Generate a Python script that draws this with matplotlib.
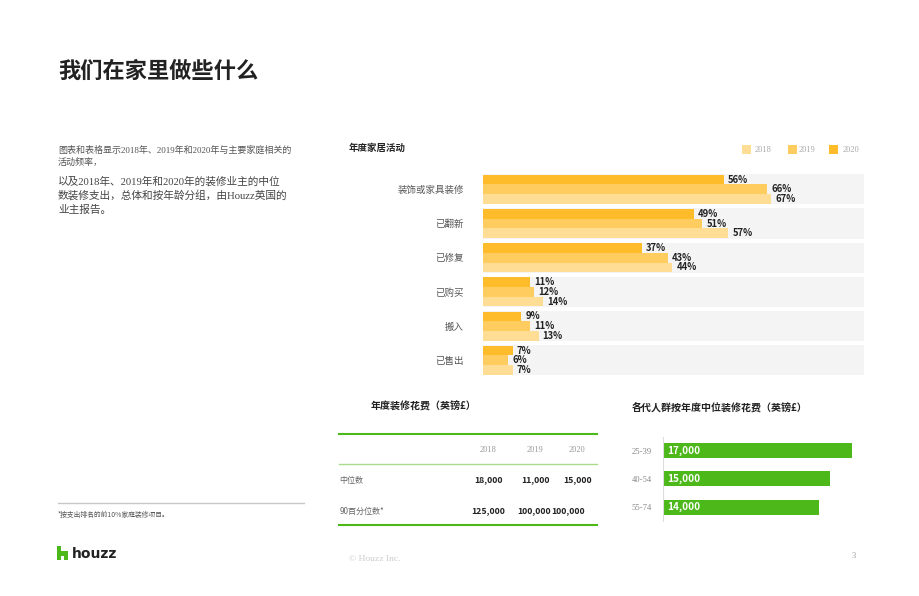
import matplotlib
matplotlib.use("Agg")
import matplotlib.pyplot as plt
from matplotlib.patches import Rectangle, Polygon
from matplotlib.lines import Line2D

plt.rcParams['font.family'] = ['Noto Sans CJK SC', 'DejaVu Sans']

W, H = 920, 596
SERIF = ['Liberation Serif', 'Noto Sans CJK SC']

# ---- data ----
activities = ['装饰或家具装修', '已翻新', '已修复', '已购买', '搬入', '已售出']
years = ['2018', '2019', '2020']
act_2020 = [56, 49, 37, 11, 9, 7]
act_2019 = [66, 51, 43, 12, 11, 6]
act_2018 = [67, 57, 44, 14, 13, 7]

table_years = ['2018', '2019', '2020']
table_rows = ['中位数', '90百分位数*']
median_spend = [18000, 11000, 15000]
p90_spend = [125000, 100000, 100000]

age_groups = ['25-39', '40-54', '55-74']
age_spend = [17000, 15000, 14000]

c2018, c2019, c2020 = '#FFDD94', '#FFCD5F', '#FFBC2A'
green = '#4DB81A'

fig = plt.figure(figsize=(W / 100, H / 100), dpi=100)


def fx(x):
    return x / W


def fy(y):
    return 1 - y / H


def ftext(x, y, s, **kw):
    fig.text(fx(x), fy(y), s, **kw)


def hline(x0, x1, y, color, lw):
    fig.add_artist(Line2D([fx(x0), fx(x1)], [fy(y), fy(y)], color=color, lw=lw,
                          transform=fig.transFigure))


# ---- title and left text ----
ftext(58, 71.5, '我们在家里做些什么', fontsize=16, fontweight='bold', color='#222222',
      va='center', ha='left')
ftext(58, 150, '图表和表格显示2018年、2019年和2020年与主要家庭相关的', fontsize=6.5,
      color='#555555', va='center', family=SERIF)
ftext(58, 162.5, '活动频率，', fontsize=6.5, color='#555555', va='center', family=SERIF)
for i, line in enumerate(['以及2018年、2019年和2020年的装修业主的中位',
                          '数装修支出，总体和按年龄分组，由Houzz英国的',
                          '业主报告。']):
    ftext(58, 181 + i * 14.7, line, fontsize=7.7, color='#444444', va='center', family=SERIF)

hline(58, 304, 503.3, '#c8c8c8', 1.0)
ftext(58, 515, '*按支出排名的前10%家庭装修项目。', fontsize=4.9, color='#555555', va='center')

# houzz logo
ix0, iy0, iw, ih = 57, 560, 11, 14
pts = [(0, 0), (0, 1), (0.36, 1), (0.36, 0.62), (1, 0.62), (1, 0), (0.64, 0), (0.64, 0.3),
       (0.36, 0.3), (0.36, 0)]
fig.add_artist(Polygon([(fx(ix0 + px * iw), fy(iy0 - py * ih)) for px, py in pts],
                       closed=True, color=green, transform=fig.transFigure, lw=0))
ftext(72, 554, 'houzz', fontsize=10, fontweight='bold', color='#222222', va='center',
      family=['DejaVu Sans'])
ftext(349, 559, '© Houzz Inc.', fontsize=6.8, color='#cccccc', va='center', family=SERIF)
ftext(856, 556, '3', fontsize=6, color='#999999', va='center', ha='right', family=SERIF)

# ---- activity bar chart ----
ftext(349, 148, '年度家居活动', fontsize=6.8, fontweight='bold', color='#222222', va='center')

# legend
for (sx, tx, lab, col) in [(742, 755, years[0], c2018), (788, 799, years[1], c2019),
                           (829, 843, years[2], c2020)]:
    fig.add_artist(Rectangle((fx(sx), fy(153.5)), 9 / W, 9 / H, color=col,
                             transform=fig.transFigure, lw=0))
    ftext(tx, 149.5, lab, fontsize=6, color='#aaaaaa', va='center', family=SERIF)

pitch = 34.2
ax_left, ax_right = 482.5, 864.3
ax_top = 189.3 - pitch / 2
ax_bottom = ax_top + pitch * 6
ax = fig.add_axes([fx(ax_left), fy(ax_bottom), (ax_right - ax_left) / W, (ax_bottom - ax_top) / H])
xmax = (ax_right - ax_left) / 4.31
ax.set_xlim(0, xmax)
ax.set_ylim(5.5, -0.5)
bh = 0.281
for i in range(len(activities)):
    ax.axhspan(i - 0.44, i + 0.44, color='#F4F4F4', lw=0, zorder=0)
series = [(act_2020, -bh, c2020), (act_2019, 0, c2019), (act_2018, bh, c2018)]
for vals, off, col in series:
    ys = [i + off for i in range(len(vals))]
    ax.barh(ys, vals, height=bh, color=col, lw=0, zorder=2)
    for v, y in zip(vals, ys):
        ax.annotate(f'{v}%', xy=(v, y), xytext=(3, 0), textcoords='offset points',
                    va='center', ha='left', fontsize=6.8, fontweight='bold', color='#222222')
ax.set_yticks(range(len(activities)))
ax.set_yticklabels(activities, fontsize=6.8, color='#555555')
ax.tick_params(axis='y', length=0, pad=13.3)
ax.set_xticks([])
for s in ax.spines.values():
    s.set_visible(False)
ax.patch.set_alpha(0)

# ---- table ----
ftext(424, 406, '年度装修花费（英镑£）', fontsize=7.2, fontweight='bold', color='#222222',
      va='center', ha='center')
hline(339.5, 597, 434, green, 1.5)
hline(339.5, 597, 464, '#A9DC8A', 1.0)
hline(339.5, 597, 525, green, 1.5)
col_x = [488.5, 535, 577]
for cx, yr in zip(col_x, table_years):
    ftext(cx, 450.5, yr, fontsize=6, color='#999999', va='center', ha='center', family=SERIF)
row_y = [480, 511]
row_cols = [[489, 536, 578], [488.5, 534.5, 568.5]]
for ry, lab, vals, cols in zip(row_y, table_rows, [median_spend, p90_spend], row_cols):
    ftext(339.5, ry, lab, fontsize=5.8, color='#666666', va='center')
    for cx, v in zip(cols, vals):
        ftext(cx, ry, f'{v:,}', fontsize=6.3, fontweight='bold', color='#222222',
              va='center', ha='center')

# ---- age group bar chart ----
ftext(632, 407, '各代人群按年度中位装修花费（英镑£）', fontsize=7.2, fontweight='bold',
      color='#222222', va='center', ha='left')
apitch = 28.2
a_top = 450.7 - apitch / 2
a_left, a_right = 662.7, 870
ax2 = fig.add_axes([fx(a_left), fy(a_top + 3 * apitch), (a_right - a_left) / W, 3 * apitch / H])
ax2.set_xlim(0, (a_right - a_left) / 189.3 * 17000)
ax2.set_ylim(2.5, -0.5)
ax2.barh(range(len(age_groups)), age_spend, height=0.53, color=green, lw=0)
for i, v in enumerate(age_spend):
    ax2.annotate(f'{v:,}', xy=(0, i), xytext=(3.3, 0), textcoords='offset points',
                 va='center', ha='left', fontsize=7.2, fontweight='bold', color='white')
ax2.set_yticks(range(len(age_groups)))
ax2.set_yticklabels(age_groups, fontsize=6.2, color='#888888', family=SERIF)
ax2.tick_params(axis='y', length=0, pad=8)
ax2.set_xticks([])
for k, s in ax2.spines.items():
    s.set_visible(k == 'left')
ax2.spines['left'].set_color('#dddddd')
ax2.spines['left'].set_linewidth(0.8)
ax2.patch.set_alpha(0)

fig.savefig('out.png', dpi=100)
